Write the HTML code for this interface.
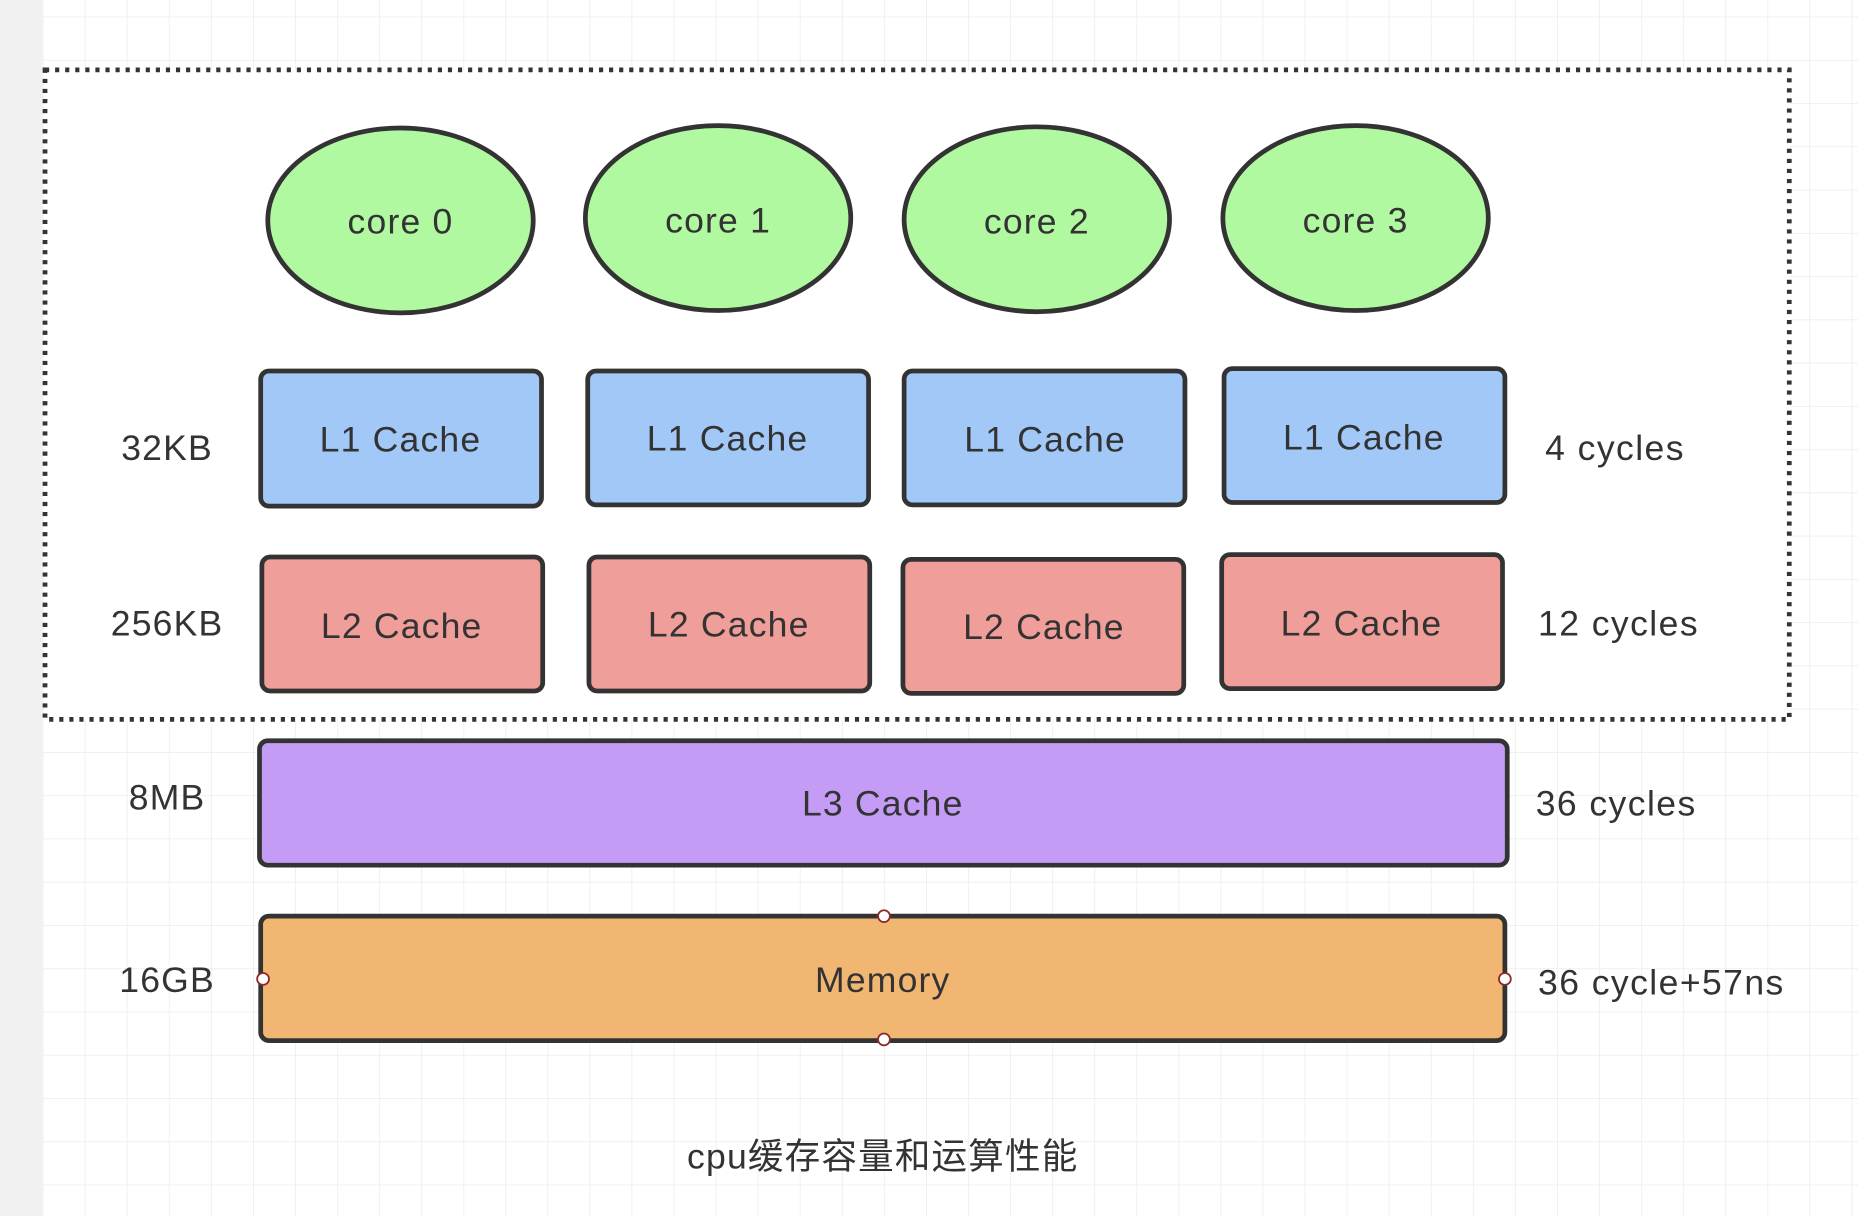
<!DOCTYPE html>
<html><head><meta charset="utf-8"><style>
html,body{margin:0;padding:0;background:#fff;}
svg{display:block;}
text{font-family:"Liberation Sans","Noto Sans CJK SC",sans-serif;fill:#333;}
</style></head><body>
<svg width="1858" height="1216" viewBox="0 0 1568 1026" preserveAspectRatio="none" xmlns="http://www.w3.org/2000/svg">
<defs>
<pattern id="g" x="36" y="14" width="35.5" height="36.5" patternUnits="userSpaceOnUse">
<path d="M0 0H35.5M0 0V36.5" stroke="#ebebeb" stroke-width="1.2" fill="none"/>
</pattern>
</defs>
<rect width="1568" height="1026" fill="#fff"/>
<rect x="36" y="0" width="1532" height="1026" fill="url(#g)"/>
<rect x="0" y="0" width="36" height="1026" fill="#f1f1f1"/>
<rect x="38" y="59" width="1472" height="548" fill="#fff" stroke="#333" stroke-width="4" stroke-dasharray="3.5 5"/>
<g stroke="#333" stroke-width="4" fill="#b1f9a1">
<ellipse cx="338" cy="186" rx="112" ry="78"/>
<ellipse cx="606" cy="184" rx="112" ry="78"/>
<ellipse cx="875" cy="185" rx="112" ry="78"/>
<ellipse cx="1144" cy="184" rx="112" ry="78"/>
</g>
<g stroke="#333" stroke-width="4" fill="#a1c8f7">
<rect x="220" y="313" width="237" height="114" rx="7"/>
<rect x="496" y="313" width="237" height="113" rx="7"/>
<rect x="763" y="313" width="237" height="113" rx="7"/>
<rect x="1033" y="311" width="237" height="113" rx="7"/>
</g>
<g stroke="#333" stroke-width="4" fill="#f09e99">
<rect x="221" y="470" width="237" height="113" rx="7"/>
<rect x="497" y="470" width="237" height="113" rx="7"/>
<rect x="762" y="472" width="237" height="113" rx="7"/>
<rect x="1031" y="468" width="237" height="113" rx="7"/>
</g>
<rect x="219" y="625" width="1053" height="105" rx="7" fill="#c49cf5" stroke="#333" stroke-width="4"/>
<rect x="220" y="773" width="1050" height="105" rx="7" fill="#f2b673" stroke="#333" stroke-width="4"/>
<g fill="#fff" stroke="#8b2a2a" stroke-width="1.5">
<circle cx="746" cy="773" r="5"/><circle cx="746" cy="877" r="5"/>
<circle cx="222" cy="826" r="5"/><circle cx="1270" cy="826" r="5"/>
</g>
<g font-size="30" letter-spacing="1" text-anchor="middle" dominant-baseline="central">
<text x="338" y="187">core 0</text>
<text x="606" y="186">core 1</text>
<text x="875" y="187">core 2</text>
<text x="1144" y="186">core 3</text>
<text x="338" y="371">L1 Cache</text>
<text x="614" y="370">L1 Cache</text>
<text x="882" y="371">L1 Cache</text>
<text x="1151" y="369">L1 Cache</text>
<text x="339" y="528">L2 Cache</text>
<text x="615" y="527">L2 Cache</text>
<text x="881" y="529">L2 Cache</text>
<text x="1149" y="526">L2 Cache</text>
<text x="745" y="678">L3 Cache</text>
<text x="745" y="827">Memory</text>
<text x="141" y="378">32KB</text>
<text x="141" y="526">256KB</text>
<text x="141" y="673">8MB</text>
<text x="141" y="827">16GB</text>
<text x="745" y="976">cpu缓存容量和运算性能</text>
</g>
<g font-size="30" letter-spacing="1.2" dominant-baseline="central">
<text x="1304" y="378">4 cycles</text>
<text x="1298" y="526">12 cycles</text>
<text x="1296" y="678">36 cycles</text>
<text x="1298" y="829">36 cycle+57ns</text>
</g>
</svg>
</body></html>
